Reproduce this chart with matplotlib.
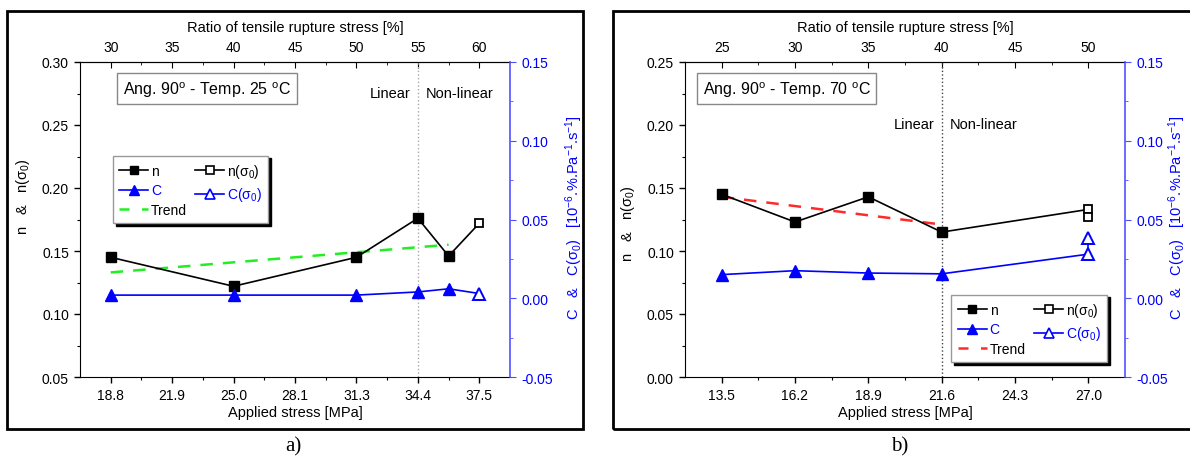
import numpy as np
import matplotlib
matplotlib.use('Agg')
import matplotlib.pyplot as plt
from matplotlib.patches import Rectangle
from matplotlib.lines import Line2D
from matplotlib.ticker import FixedLocator, FormatStrFormatter

plt.rcParams['font.family'] = ['Liberation Sans', 'DejaVu Sans']
plt.rcParams['mathtext.fontset'] = 'custom'
plt.rcParams['mathtext.rm'] = 'Liberation Sans'
plt.rcParams['mathtext.it'] = 'Liberation Sans:italic'
plt.rcParams['mathtext.bf'] = 'Liberation Sans:bold'

BLUE = '#0000ff'
AXBLUE = '#5050ff'
GREEN = '#22ee22'
RED = '#ff2a2a'

# ---- panel a : Ang. 90 - Temp. 25 C (rupture stress 62.5 MPa)
a_rupture = 62.5
a_xticks = [18.75, 21.875, 25.0, 28.125, 31.25, 34.375, 37.5]
a_xlabels = ['18.8', '21.9', '25.0', '28.1', '31.3', '34.4', '37.5']
a_pct = [30, 35, 40, 45, 50, 55, 60]
a_x = [18.75, 25.0, 31.25, 34.375, 35.94]
a_n = [0.145, 0.122, 0.145, 0.176, 0.146]
a_C = [0.002, 0.002, 0.002, 0.004, 0.006]
a_x0 = [37.5]
a_n0 = [0.172]
a_C0 = [0.003]
a_trend_x = [18.75, 35.94]
a_trend_y = [0.133, 0.155]
a_limit = 34.375

# ---- panel b : Ang. 90 - Temp. 70 C (rupture stress 54 MPa)
b_rupture = 54.0
b_xticks = [13.5, 16.2, 18.9, 21.6, 24.3, 27.0]
b_xlabels = ['13.5', '16.2', '18.9', '21.6', '24.3', '27.0']
b_pct = [25, 30, 35, 40, 45, 50]
b_x = [13.5, 16.2, 18.9, 21.6]
b_n = [0.145, 0.123, 0.143, 0.115]
b_C = [0.015, 0.0175, 0.016, 0.0155]
b_x0 = [27.0, 27.0]
b_n0 = [0.133, 0.127]
b_C0 = [0.028, 0.038]
b_trend_x = [13.5, 21.6]
b_trend_y = [0.143, 0.121]
b_limit = 21.6

W, H = 1190, 460
fig = plt.figure(figsize=(W / 100, H / 100), dpi=100)


def mids(v):
    return [(p + q) / 2 for p, q in zip(v[:-1], v[1:])]


def panel(px, title, xt, xl, pct, rupture, x, n, C, x0, n0, C0, tx, ty, tcol,
          limit, limcol, ylo, lin_y, box_x, leg_kw, ylab_pos, rlab_pos):
    left, right, top, bottom = px
    ax = fig.add_axes([left / W, 1 - bottom / H, (right - left) / W, (bottom - top) / H])
    step = xt[1] - xt[0]
    ax.set_xlim(xt[0] - step / 2, xt[-1] + step / 2)
    ax.set_ylim(ylo, ylo + 0.25)
    ax.set_xticks(xt)
    ax.set_xticklabels(xl)
    ax.xaxis.set_minor_locator(FixedLocator(mids(xt)))
    yt = np.round(np.arange(ylo, ylo + 0.2501, 0.05), 2)
    ax.set_yticks(yt)
    ax.yaxis.set_minor_locator(FixedLocator(mids(list(yt))))
    ax.yaxis.set_major_formatter(FormatStrFormatter('%.2f'))
    ax.tick_params(which='both', direction='out', labelsize=10, top=False, right=False)
    ax.tick_params(which='major', length=4.5, width=1)
    ax.tick_params(which='minor', length=2.5, width=0.8)
    ax.spines['right'].set_visible(False)
    ax.set_xlabel('Applied stress [MPa]', fontsize=10.5, labelpad=2)
    ax.set_ylabel('n   &   n(σ$_0$)', fontsize=10.5)
    ax.yaxis.set_label_coords(*ylab_pos)

    sec = ax.secondary_xaxis('top', functions=(lambda s: s / rupture * 100,
                                               lambda p: p * rupture / 100))
    sec.set_xticks(pct)
    sec.xaxis.set_minor_locator(FixedLocator(mids(pct)))
    sec.tick_params(which='both', direction='in', labelsize=10, pad=6)
    sec.tick_params(which='major', length=4.5)
    sec.tick_params(which='minor', length=2.5)
    sec.set_xlabel('Ratio of tensile rupture stress [%]', fontsize=10.5, labelpad=6)

    ax2 = ax.twinx()
    ax2.set_ylim(-0.05, 0.15)
    ct = [-0.05, 0.0, 0.05, 0.10, 0.15]
    ax2.set_yticks(ct)
    ax2.yaxis.set_minor_locator(FixedLocator(mids(ct)))
    ax2.yaxis.set_major_formatter(FormatStrFormatter('%.2f'))
    for s in ['left', 'top', 'bottom']:
        ax2.spines[s].set_visible(False)
    ax2.spines['right'].set_color(AXBLUE)
    ax2.spines['right'].set_linewidth(1.2)
    ax2.tick_params(which='both', direction='out', colors=AXBLUE, labelcolor=BLUE, labelsize=10)
    ax2.tick_params(which='major', length=4.5)
    ax2.tick_params(which='minor', length=2.5)
    ax2.set_ylabel('C   &   C(σ$_0$)   [10$^{-6}$.%.Pa$^{-1}$.s$^{-1}$]', color=BLUE, fontsize=10.5)
    ax2.yaxis.set_label_coords(*rlab_pos)

    # limit between linear / non-linear
    ax.axvline(limit, color=limcol, ls=':', lw=1)
    ax.annotate('Linear', (limit, lin_y), xytext=(-5, 0), textcoords='offset points',
                ha='right', va='center', fontsize=10.5)
    ax.annotate('Non-linear', (limit, lin_y), xytext=(6, 0), textcoords='offset points',
                ha='left', va='center', fontsize=10.5)

    # n
    ax.plot(tx, ty, color=tcol, lw=1.8, dashes=(5, 4))
    ax.plot(list(x) + list(x0[:1]), list(n) + list(n0[:1]), color='k', lw=1.2)
    ax.plot(x, n, 's', color='k', ms=6.5)
    ax.plot(x0, n0, 's-', color='k', mfc='white', mec='k', mew=1.3, ms=6, lw=1.2)

    # C
    ax2.plot(list(x) + list(x0[:1]), list(C) + list(C0[:1]), color=BLUE, lw=1.2)
    ax2.plot(x, C, '^', color=BLUE, ms=8.5)
    ax2.plot(x0, C0, '^-', color=BLUE, mfc='white', mec=BLUE, mew=1.4, ms=8.5, lw=1.2)

    ax2.text(box_x[0], box_x[1], title, transform=ax.transAxes, fontsize=11.5, va='center',
             ha='left', bbox=dict(boxstyle='square,pad=0.35', fc='white', ec='#888888', lw=1))

    handles = [
        Line2D([], [], color='k', marker='s', ms=6, lw=1.2),
        Line2D([], [], color=BLUE, marker='^', ms=7.5, lw=1.2),
        Line2D([], [], color=tcol, lw=1.8, dashes=(4, 5)),
        Line2D([], [], color='k', marker='s', ms=5.5, mfc='white', mew=1.2, lw=1.2),
        Line2D([], [], color=BLUE, marker='^', ms=7.5, mfc='white', mew=1.2, lw=1.2),
    ]
    labels = ['n', 'C', 'Trend', 'n(σ$_0$)', 'C(σ$_0$)']
    leg = ax2.legend(handles, labels, ncol=2, fontsize=10, numpoints=1,
                     handlelength=2.1, handletextpad=0.2, columnspacing=0.6,
                     labelspacing=0.4, borderpad=0.45, fancybox=False, framealpha=1,
                     edgecolor='#999999', shadow={'color': 'black', 'alpha': 1},
                     labelcolor=['k', BLUE, 'k', 'k', BLUE], **leg_kw)
    leg.get_frame().set_linewidth(1)
    return ax


panel((80, 510, 63, 378), 'Ang. 90$^\\mathrm{o}$ - Temp. 25 $^\\mathrm{o}$C',
      a_xticks, a_xlabels, a_pct, a_rupture, a_x, a_n, a_C, a_x0, a_n0, a_C0,
      a_trend_x, a_trend_y, GREEN, a_limit, '#aaaaaa', 0.05, 0.275,
      (0.1, 0.915), dict(loc='upper left', bbox_to_anchor=(0.06, 0.725)),
      (-0.112, 0.575), (1.125, 0.51))

panel((685, 1125, 63, 378), 'Ang. 90$^\\mathrm{o}$ - Temp. 70 $^\\mathrm{o}$C',
      b_xticks, b_xlabels, b_pct, b_rupture, b_x, b_n, b_C, b_x0, b_n0, b_C0,
      b_trend_x, b_trend_y, RED, b_limit, '#444444', 0.0, 0.201,
      (0.04, 0.915), dict(loc='lower right', bbox_to_anchor=(0.975, 0.025)),
      (-0.11, 0.49), (1.095, 0.51))

# panel frames and captions
fig.add_artist(Rectangle((7 / W, 1 - 430 / H), 576 / W, 418 / H, transform=fig.transFigure,
                         fill=False, ec='k', lw=2))
fig.add_artist(Rectangle((613 / W, 1 - 430 / H), 600 / W, 418 / H, transform=fig.transFigure,
                         fill=False, ec='k', lw=2))
fig.text(293 / W, 1 - 447 / H, 'a)', family='Liberation Serif', fontsize=15, ha='center', va='center')
fig.text(900 / W, 1 - 447 / H, 'b)', family='Liberation Serif', fontsize=15, ha='center', va='center')

fig.savefig('out.png', dpi=100)
